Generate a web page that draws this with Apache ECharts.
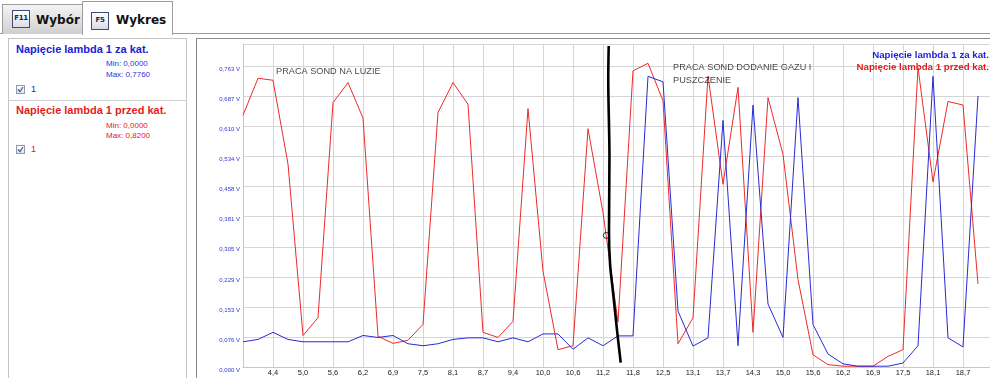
<!DOCTYPE html>
<html>
<head>
<meta charset="utf-8">
<script src="https://cdn.jsdelivr.net/npm/echarts@6/dist/echarts.min.js"></script>
<style>
  html, body { margin: 0; padding: 0; }
  body { width: 990px; height: 378px; overflow: hidden; background: #fff; position: relative;
         font-family: 'Liberation Sans', Arial, sans-serif; }
  .abs { position: absolute; white-space: nowrap; }
  .tabline { position: absolute; left: 0; top: 33px; width: 990px; height: 0; border-top: 1px solid #9c9c9c; }
  .tab { position: absolute; box-sizing: border-box; border: 1px solid #9c9c9c; border-bottom: none; }
  #tab1 { left: 2px; top: 4px; width: 81px; height: 30px; background: linear-gradient(#f4f4f4, #cfcfcf); }
  #tab2 { left: 82px; top: 1px; width: 91px; height: 34px; background: #fff; }
  .key { position: absolute; box-sizing: border-box; width: 18px; height: 18px; border: 1px solid #3d4a7a;
         background: linear-gradient(#ffffff, #d9dce8); color: #1c2552; font: bold 7px 'DejaVu Sans', sans-serif;
         text-align: center; line-height: 15px; letter-spacing: -0.3px; overflow: hidden; }
  .tabtxt { position: absolute; font: bold 12px 'DejaVu Sans', sans-serif; color: #111; line-height: 14px; }
  #leftpanel { position: absolute; left: 8px; top: 38px; width: 179px; height: 345px; box-sizing: border-box;
               border: 1px solid #c4c4c4; }
  #sep { position: absolute; left: 8px; top: 100px; width: 179px; height: 0; border-top: 1px solid #d0d0d0; }
  .sname { font-weight: bold; font-size: 11px; line-height: 13px; }
  .mm { font-size: 8px; line-height: 10px; }
  .chk { position: absolute; width: 9px; height: 9px; box-sizing: border-box; border: 1px solid #8e9ab4;
         background: linear-gradient(#ffffff, #dde2ec); }
  .chk svg { display: block; position: absolute; left: 0; top: 0; }
  .one { font-size: 9px; line-height: 10px; }
  #chartpanel { position: absolute; left: 196px; top: 38px; width: 800px; height: 345px; box-sizing: border-box;
                border-left: 1px solid #8a8a8a; border-top: 1px solid #8a8a8a; }
  #chart { position: absolute; left: 197px; top: 39px; width: 793px; height: 339px; }
</style>
</head>
<body>
<div class="tabline"></div>
<div class="tab" id="tab1">
  <div class="key" style="left:9px;top:5px;">F11</div>
  <div class="tabtxt" style="left:33px;top:8px;">Wybór</div>
</div>
<div class="tab" id="tab2">
  <div class="key" style="left:8px;top:10px;">F5</div>
  <div class="tabtxt" style="left:33px;top:11px;">Wykres</div>
</div>

<div id="leftpanel"></div>
<div id="sep"></div>
<div class="abs sname" style="left:16px;top:43px;color:#2020d8;">Napięcie lambda 1 za kat.</div>
<div class="abs mm" style="left:106px;top:59px;color:#3030d8;">Min: 0,0000</div>
<div class="abs mm" style="left:106px;top:70px;color:#3030d8;">Max: 0,7760</div>
<div class="chk" style="left:16px;top:85px;"><svg width="7" height="7" viewBox="0 0 7 7"><path d="M1 3.5 L3 5.5 L6 1" stroke="#4a5a86" stroke-width="1.2" fill="none"/></svg></div>
<div class="abs one" style="left:31px;top:84px;color:#2020d8;">1</div>

<div class="abs sname" style="left:16px;top:104px;color:#e41c1c;">Napięcie lambda 1 przed kat.</div>
<div class="abs mm" style="left:106px;top:121px;color:#e02020;">Min: 0,0000</div>
<div class="abs mm" style="left:106px;top:131px;color:#e02020;">Max: 0,8200</div>
<div class="chk" style="left:16px;top:145px;"><svg width="7" height="7" viewBox="0 0 7 7"><path d="M1 3.5 L3 5.5 L6 1" stroke="#4a5a86" stroke-width="1.2" fill="none"/></svg></div>
<div class="abs one" style="left:31px;top:144px;color:#e02020;">1</div>

<div id="chartpanel"></div>
<div id="chart"></div>

<script>
// ---- data ----
const seriesBlueName = 'Napięcie lambda 1 za kat.';
const seriesRedName = 'Napięcie lambda 1 przed kat.';

// sample times of every second point (tick labels), seconds
const xTickLabels = ['3,8','4,4','5,0','5,6','6,2','6,9','7,5','8,1','8,7','9,4','10,0','10,6','11,2',
                     '11,8','12,5','13,1','13,7','14,3','15,0','15,6','16,2','16,9','17,5','18,1','18,7','19,3'];

// voltage tick labels (V)
const yTickLabels = ['0,000','0,076','0,153','0,229','0,305','0,381','0,458','0,534','0,610','0,687','0,763'];

const blueValues = [0.064,0.070,0.088,0.070,0.064,0.064,0.064,0.064,0.080,0.075,
                    0.080,0.059,0.054,0.059,0.070,0.074,0.074,0.064,0.074,0.064,
                    0.084,0.084,0.045,0.074,0.054,0.079,0.079,0.738,0.724,0.142,
                    0.053,0.074,0.626,0.054,0.665,0.160,0.075,0.684,0.108,0.033,
                    0.008,0.002,0.002,0.002,0.010,0.054,0.738,0.074,0.051,0.688];

const redValues = [0.639,0.733,0.728,0.515,0.080,0.125,0.671,0.722,0.632,0.078,
                   0.060,0.068,0.108,0.646,0.722,0.667,0.088,0.075,0.116,0.656,
                   0.243,0.044,0.054,0.605,0.392,0.114,0.752,0.771,0.676,0.059,
                   0.125,0.739,0.464,0.710,0.088,0.684,0.540,0.222,0.031,0.006,
                   0.002,0.002,0.002,0.027,0.044,0.760,0.470,0.674,0.665,0.211];

// hand-drawn black marker line (in chart coordinates: sample index, volts)
const markerLine = [[24.38,0.815],[24.35,0.731],[24.43,0.535],[24.40,0.342],[24.47,0.262],
                    [24.67,0.189],[24.93,0.095],[25.18,0.011]];
const markerCircle = [[24.22,0.334]];

const annotations = [
  { text: 'PRACA SOND NA LUZIE', x: 2.2, y: 0.766 },
  { text: 'PRACA SOND DODANIE GAZU I\nPUSZCZENIE', x: 28.67, y: 0.776 }
];

const yInterval = 0.07629;
const yMax = 0.82;

// ---- chart ----
const chart = echarts.init(document.getElementById('chart'), null, { renderer: 'canvas' });

const toPairs = arr => arr.map((v, i) => [i, v]);

const option = {
  animation: false,
  backgroundColor: '#fff',
  grid: { left: 46, top: 5, right: -3, bottom: 11, containLabel: false, outerBoundsMode: 'none' },
  legend: {
    orient: 'vertical',
    right: -4,
    top: 11,
    padding: 0,
    align: 'right',
    itemWidth: 0,
    itemHeight: 10,
    itemGap: 2.5,
    icon: 'rect',
    selectedMode: false,
    textStyle: { fontFamily: 'Liberation Sans', fontWeight: 'bold', fontSize: 9.7 },
    data: [
      { name: seriesBlueName, textStyle: { color: '#2222dd' } },
      { name: seriesRedName, textStyle: { color: '#e81c1c' } }
    ]
  },
  xAxis: {
    type: 'value',
    min: 0,
    max: 50,
    interval: 2,
    axisLine: { show: true, lineStyle: { color: '#c8c8c8' } },
    axisTick: { show: false },
    splitLine: { show: true, lineStyle: { color: '#d6d6d6', width: 1 } },
    axisLabel: {
      margin: 2,
      fontSize: 7.5,
      fontFamily: 'Liberation Sans',
      color: '#222',
      formatter: v => (v === 0 || v >= 50 ? '' : (xTickLabels[Math.round(v / 2)] || ''))
    }
  },
  yAxis: {
    type: 'value',
    min: 0,
    max: yMax,
    interval: yInterval,
    axisLine: { show: true, lineStyle: { color: '#c8c8c8' } },
    axisTick: { show: false },
    splitLine: { show: true, lineStyle: { color: '#d6d6d6', width: 1 } },
    axisLabel: {
      margin: 3,
      fontSize: 6,
      fontFamily: 'Liberation Sans',
      color: '#3535d0',
      verticalAlign: 'top',
      formatter: v => {
        const k = Math.round(v / yInterval);
        if (Math.abs(k * yInterval - v) > 1e-6 || k >= yTickLabels.length) return '';
        return yTickLabels[k] + ' V';
      }
    }
  },
  series: [
    {
      name: seriesRedName, type: 'line', data: toPairs(redValues), symbol: 'none',
      lineStyle: { color: '#ec2a2a', width: 1 }, itemStyle: { color: '#ec2a2a' }, z: 3
    },
    {
      name: seriesBlueName, type: 'line', data: toPairs(blueValues), symbol: 'none',
      lineStyle: { color: '#2a2ad4', width: 1 }, itemStyle: { color: '#2a2ad4' }, z: 4
    },
    {
      name: 'marker', type: 'line', data: markerLine, symbol: 'none', smooth: 0.3,
      lineStyle: { color: '#000', width: 2.6 }, z: 6, silent: true
    },
    {
      name: 'marker-circle', type: 'scatter', data: markerCircle, symbol: 'circle', symbolSize: 6,
      itemStyle: { color: 'rgba(255,255,255,0)', borderColor: '#000', borderWidth: 1 }, z: 7, silent: true
    },
    {
      name: 'notes', type: 'scatter', symbolSize: 0, silent: true, z: 8,
      data: annotations.map(a => ({ value: [a.x, a.y], label: { formatter: a.text } })),
      label: {
        show: true, position: 'right', distance: 0, align: 'left', verticalAlign: 'top',
        fontFamily: 'Liberation Sans', fontSize: 9.2, color: '#151515', lineHeight: 13
      }
    }
  ]
};

chart.setOption(option);
</script>
</body>
</html>
